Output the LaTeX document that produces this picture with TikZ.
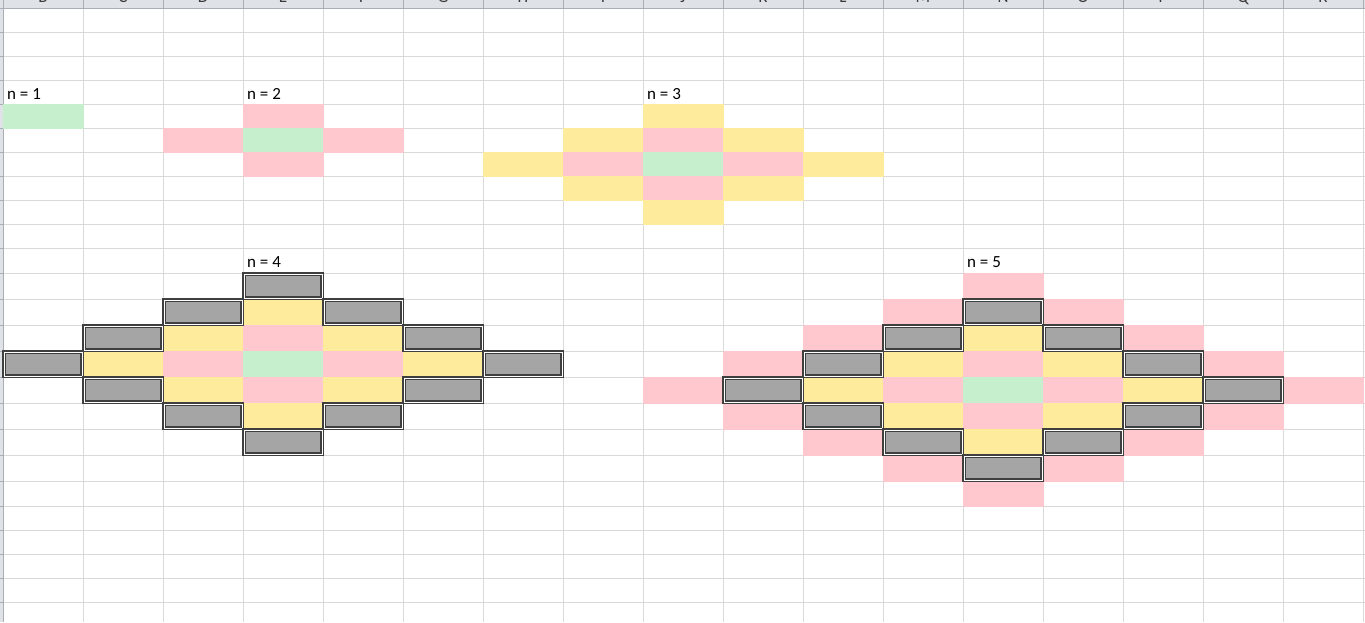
\documentclass[tikz,border=0pt]{standalone}
\usepackage{fontspec}
\setmainfont{Carlito}
\definecolor{goodfill}{HTML}{C6EFCE}
\definecolor{badfill}{HTML}{FFC7CE}
\definecolor{neutralfill}{HTML}{FFEB9C}
\definecolor{checkfill}{HTML}{A5A5A5}
\definecolor{checkline}{HTML}{3F3F3F}
\definecolor{gridcol}{HTML}{D9D9D9}
\definecolor{hdrfill}{HTML}{DFE3E8}
\definecolor{hdrline}{HTML}{A9AEB4}
\definecolor{hdrtext}{HTML}{3A3A3A}

% row boundaries of the sheet (rows 11-19 are a little taller)
\def\rowedges{{8,32,56,80,104,128,152,176,200,224,248,273,299,325,351,377,403,429,455,481,506,530,554,578,602,626}}

\tikzset{
  gridline/.style={draw=gridcol, line width=1pt},
  checkborder/.style={draw=checkline, line width=1.2pt, double=white, double distance=0.9pt},
  lbl/.style={anchor=base west, inner sep=0pt, font=\fontsize{17}{17}\selectfont},
  colhead/.style={anchor=base, inner sep=0pt, text=hdrtext, font=\fontsize{17}{17}\selectfont}
}

% fill one cell: column index, row index, colour
\newcommand\sheetcell[3]{%
  \pgfmathsetmacro\xa{3+80*#1}%
  \pgfmathsetmacro\ya{\rowedges[#2]}%
  \pgfmathsetmacro\yb{\rowedges[#2+1]}%
  \fill[#3] (\xa-0.5,\ya-0.5) rectangle (\xa+80.5,\yb+0.5);%
}

% a diamond of cells coloured by distance from the centre cell;
% the ring at distance 3 is grey with a double border
\newcommand\diamondfig[3]{%
  \foreach \dx in {-#3,...,#3}{\foreach \dy in {-#3,...,#3}{%
    \pgfmathtruncatemacro\dd{abs(\dx)+abs(\dy)}%
    \ifnum\dd>#3\relax\else
      \pgfmathtruncatemacro\cc{#1+\dx}%
      \pgfmathtruncatemacro\rr{#2+\dy}%
      \ifcase\dd \def\fc{goodfill}\or \def\fc{badfill}\or \def\fc{neutralfill}\or \def\fc{checkfill}\or \def\fc{badfill}\fi
      \sheetcell{\cc}{\rr}{\fc}%
    \fi}}%
  \ifnum#3>2
  \foreach \dx in {-#3,...,#3}{\foreach \dy in {-#3,...,#3}{%
    \pgfmathtruncatemacro\dd{abs(\dx)+abs(\dy)}%
    \ifnum\dd=3
      \pgfmathtruncatemacro\cc{#1+\dx}%
      \pgfmathtruncatemacro\rr{#2+\dy}%
      \pgfmathsetmacro\xa{3+80*\cc}%
      \pgfmathsetmacro\ya{\rowedges[\rr]}%
      \pgfmathsetmacro\yb{\rowedges[\rr+1]}%
      \draw[checkborder] (\xa+1,\ya+1) rectangle (\xa+79,\yb-1);%
    \fi}}%
  \fi
}

\begin{document}
\begin{tikzpicture}[x=1pt,y=-1pt]
\useasboundingbox (0,0) rectangle (1365,622);
\fill[white] (0,0) rectangle (1365,622);

% gridlines
\foreach \k in {1,...,17} \draw[gridline] ({3+80*\k},8) -- ({3+80*\k},622);
\foreach \y in {32,56,80,104,128,152,176,200,224,248,273,299,325,351,377,403,429,455,481,506,530,554,578,602}
  \draw[gridline] (3,\y) -- (1365,\y);

% row header strip
\fill[hdrfill] (0,8) rectangle (3,622);
\draw[hdrline, line width=1pt] (3,8) -- (3,622);
\foreach \y in {32,56,80,104,128,152,176,200,224,248,273,299,325,351,377,403,429,455,481,506,530,554,578,602}
  \draw[hdrline, line width=1pt] (0,\y) -- (3,\y);

% column header strip (letters run past the top edge)
\fill[hdrfill] (0,0) rectangle (1365,8);
\foreach \k in {0,...,17} \draw[hdrline, line width=1pt] ({3+80*\k},0) -- ({3+80*\k},8);
\begin{scope}
  \clip (0,0) rectangle (1365,7.5);
  \foreach \l [count=\i from 0] in {B,C,D,E,F,G,H,I,J,K,L,M,N,O,P,Q,R}
    \node[colhead] (col\l) at ({43+80*\i},2.6) {\l};
\end{scope}
\draw[hdrline, line width=1pt] (0,8) -- (1365,8);

% n = 1
\sheetcell{0}{4}{goodfill}
% n = 2
\diamondfig{3}{5}{1}
% n = 3
\diamondfig{8}{6}{2}
% n = 4
\diamondfig{3}{14}{3}
% n = 5
\diamondfig{12}{15}{4}

% labels
\node[lbl] (n1) at (7,99) {n = 1};
\node[lbl] (n2) at (247,99) {n = 2};
\node[lbl] (n3) at (647,99) {n = 3};
\node[lbl] (n4) at (247,267) {n = 4};
\node[lbl] (n5) at (967,267) {n = 5};
\end{tikzpicture}
\end{document}
